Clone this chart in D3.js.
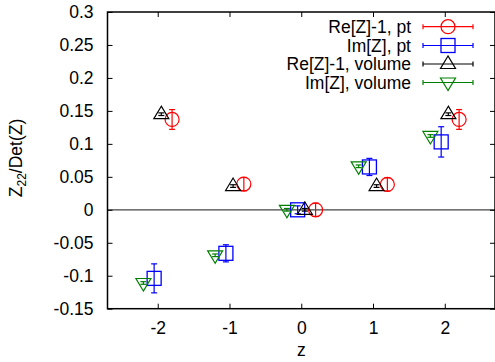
<!DOCTYPE html>
<html>
<head>
<meta charset="utf-8">
<script src="https://d3js.org/d3.v7.min.js"></script>
<style>
  body { margin: 0; background: #fff; }
  svg { display: block; }
  text { font-family: "Liberation Sans", Arial, sans-serif; font-size: 17.5px; fill: #000; }
</style>
</head>
<body>
<svg width="495" height="362"></svg>
<script>
// data
var zs = [-2, -1, 0, 1, 2];
var rePt     = [0.137, 0.039, 0.000, 0.0385, 0.137];
var rePtErr  = [0.015, 0.010, 0.010, 0.010, 0.015];
var imPt     = [-0.104, -0.066, 0.000, 0.065, 0.103];
var imPtErr  = [0.022, 0.013, 0.006, 0.013, 0.023];
var reVol    = [0.145, 0.036, 0.000, 0.036, 0.145];
var reVolErr = [0.002, 0.002, 0.002, 0.002, 0.002];
var imVol    = [-0.111, -0.069, 0.000, 0.066, 0.112];
var imVolErr = [0.002, 0.002, 0.002, 0.002, 0.002];
var yTicks = [-0.15, -0.1, -0.05, 0, 0.05, 0.1, 0.15, 0.2, 0.25, 0.3];
var xTicks = [-2, -1, 0, 1, 2];

var series = [
  {label: "Re[Z]-1, pt",     vals: rePt,  err: rePtErr,  shift: 0.2,   color: "#ff0000", shape: "circle"},
  {label: "Im[Z], pt",       vals: imPt,  err: imPtErr,  shift: -0.05, color: "#0000ff", shape: "square"},
  {label: "Re[Z]-1, volume", vals: reVol, err: reVolErr, shift: 0.05,  color: "#000000", shape: "up"},
  {label: "Im[Z], volume",   vals: imVol, err: imVolErr, shift: -0.2,  color: "#008000", shape: "down"}
];

var svg = d3.select("svg");
var pLeft = 107.5, pRight = 495, pTop = 12, pBottom = 308.7;

var x = d3.scaleLinear().domain([-2.7, 2.7]).range([pLeft, pRight]);
var y = d3.scaleLinear().domain([-0.15, 0.3]).range([pBottom, pTop]);

// zero line
svg.append("line")
  .attr("x1", pLeft).attr("x2", pRight)
  .attr("y1", y(0)).attr("y2", y(0))
  .attr("stroke", "#444").attr("stroke-width", 1.3);

// axes with inward ticks, plain hyphen minus like gnuplot
var fmt = function(d){ return String(+d.toFixed(2)); };
var yAxis = svg.append("g").attr("transform", "translate(" + pLeft + ",0)")
  .call(d3.axisLeft(y).tickValues(yTicks).tickSize(-5).tickPadding(14).tickFormat(fmt));
var yAxisR = svg.append("g").attr("transform", "translate(" + pRight + ",0)")
  .call(d3.axisRight(y).tickValues(yTicks).tickSize(-5).tickFormat(""));
var xAxis = svg.append("g").attr("transform", "translate(0," + pBottom + ")")
  .call(d3.axisBottom(x).tickValues(xTicks).tickSize(-5).tickPadding(13).tickFormat(fmt));
var xAxisT = svg.append("g").attr("transform", "translate(0," + pTop + ")")
  .call(d3.axisTop(x).tickValues(xTicks).tickSize(-5).tickFormat(""));
[yAxis, yAxisR, xAxis, xAxisT].forEach(function(g){
  g.attr("font-size", null).attr("font-family", null);
  g.select(".domain").remove();
  g.selectAll("line").attr("stroke", "#000");
  g.selectAll("text").attr("fill", "#000");
});
svg.append("rect")
  .attr("x", pLeft).attr("y", pTop).attr("width", pRight - pLeft).attr("height", pBottom - pTop)
  .attr("fill", "none").attr("stroke", "#000").attr("stroke-width", 1.5);

// markers
function drawMarker(g, cx, cy, s) {
  if (s.shape === "circle") {
    g.append("circle").attr("cx", cx).attr("cy", cy).attr("r", 7)
      .attr("fill", "none").attr("stroke", s.color).attr("stroke-width", 1.2);
  } else if (s.shape === "square") {
    g.append("rect").attr("x", cx - 7).attr("y", cy - 7).attr("width", 14).attr("height", 14)
      .attr("fill", "none").attr("stroke", s.color).attr("stroke-width", 1.3);
  } else if (s.shape === "up") {
    var pts = [[cx, cy - 8], [cx - 7.5, cy + 4.5], [cx + 7.5, cy + 4.5]];
    g.append("path").attr("d", "M" + pts.join("L") + "Z")
      .attr("fill", "none").attr("stroke", s.color).attr("stroke-width", 1.2);
  } else {
    var pts2 = [[cx, cy + 8], [cx - 7.5, cy - 4.5], [cx + 7.5, cy - 4.5]];
    g.append("path").attr("d", "M" + pts2.join("L") + "Z")
      .attr("fill", "none").attr("stroke", s.color).attr("stroke-width", 1.2);
  }
}

series.forEach(function(s) {
  var g = svg.append("g");
  zs.forEach(function(z, i) {
    var cx = x(z + s.shift), cy = y(s.vals[i]);
    var y1 = y(s.vals[i] + s.err[i]), y2 = y(s.vals[i] - s.err[i]);
    g.append("line").attr("x1", cx).attr("x2", cx).attr("y1", y1).attr("y2", y2)
      .attr("stroke", s.color).attr("stroke-width", 1.2);
    [y1, y2].forEach(function(yy) {
      g.append("line").attr("x1", cx - 3).attr("x2", cx + 3).attr("y1", yy).attr("y2", yy)
        .attr("stroke", s.color).attr("stroke-width", 1.2);
    });
    drawMarker(g, cx, cy, s);
  });
});

// legend
var legY = [26.7, 45.5, 64, 82.5];
series.forEach(function(s, i) {
  var g = svg.append("g");
  var ly = legY[i];
  g.append("text").attr("x", 411).attr("y", ly).attr("dy", "0.35em")
    .attr("text-anchor", "end").text(s.label);
  g.append("line").attr("x1", 423).attr("x2", 473).attr("y1", ly).attr("y2", ly)
    .attr("stroke", s.color).attr("stroke-width", 1.2);
  [423, 473].forEach(function(xx) {
    g.append("line").attr("x1", xx).attr("x2", xx).attr("y1", ly - 2.5).attr("y2", ly + 2.5)
      .attr("stroke", s.color).attr("stroke-width", 1.2);
  });
  drawMarker(g, 448, ly, s);
});

// axis titles
svg.append("text").attr("x", x(0)).attr("y", 356).attr("text-anchor", "middle").text("z");
var yt = svg.append("text").attr("transform", "translate(22,158) rotate(-90)")
  .attr("text-anchor", "middle");
yt.append("tspan").text("Z");
yt.append("tspan").attr("dy", 4).style("font-size", "12px").text("22");
yt.append("tspan").attr("dy", -4).text("/Det(Z)");
</script>
</body>
</html>
